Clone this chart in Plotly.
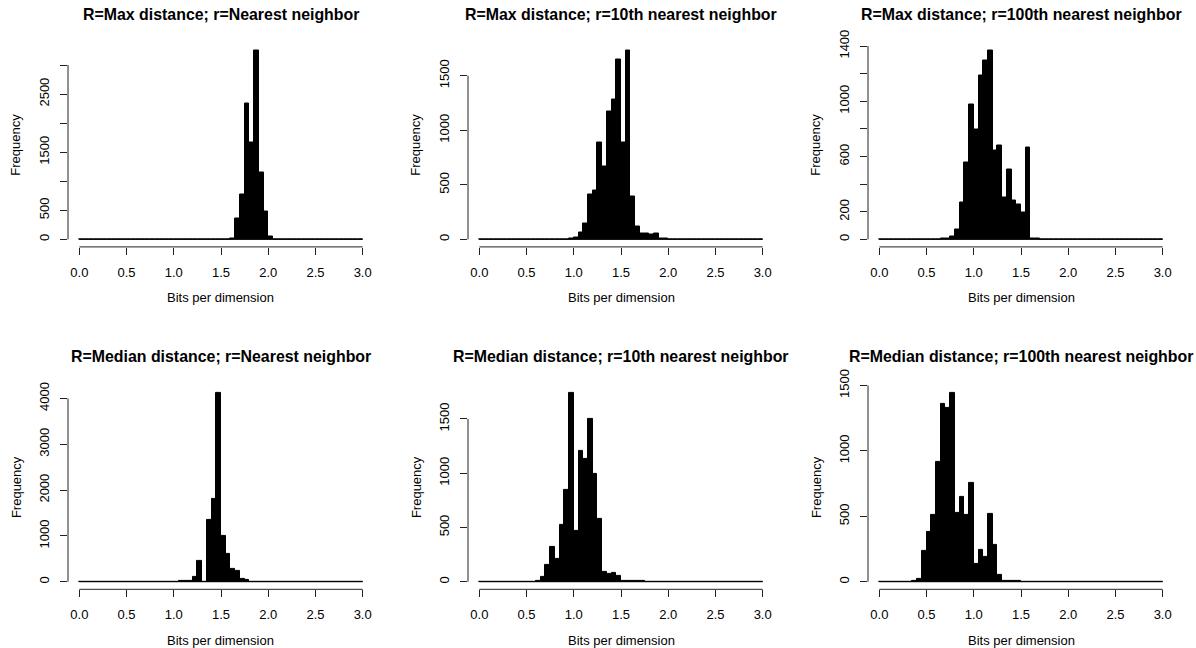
import plotly.graph_objects as go

# ---------------- data ----------------
BIN_WIDTH = 0.05
BIN_LEFT = [round(i * BIN_WIDTH, 2) for i in range(60)]  # bins 0.00 .. 2.95

COUNTS_MAX_NN = [
    0, 0, 0, 0, 0, 0, 0, 0, 0, 0,
    0, 0, 0, 0, 0, 0, 0, 0, 0, 0,
    0, 0, 0, 0, 0, 0, 0, 0, 0, 0,
    0, 3, 20, 367, 763, 2340, 1663, 3257, 1147, 476,
    52, 0, 0, 0, 0, 0, 0, 0, 0, 0,
    0, 0, 0, 0, 0, 0, 0, 0, 0, 0,
]
COUNTS_MAX_10 = [
    0, 0, 0, 0, 0, 0, 0, 0, 0, 0,
    0, 0, 0, 0, 0, 0, 0, 0, 0, 5,
    18, 64, 147, 412, 449, 889, 672, 1173, 1286, 1649,
    889, 1735, 397, 122, 58, 58, 43, 55, 12, 12,
    2, 0, 0, 0, 0, 0, 0, 0, 0, 0,
    0, 0, 0, 0, 0, 0, 0, 0, 0, 0,
]
COUNTS_MAX_100 = [
    0, 0, 0, 0, 0, 0, 0, 0, 0, 0,
    0, 0, 0, 3, 7, 24, 72, 268, 555, 980,
    796, 1185, 1296, 1371, 640, 678, 304, 507, 282, 249,
    191, 664, 3, 3, 2, 2, 2, 2, 0, 0,
    0, 0, 0, 0, 0, 0, 0, 0, 0, 0,
    0, 0, 0, 0, 0, 0, 0, 0, 0, 0,
]
COUNTS_MED_NN = [
    0, 0, 0, 0, 0, 0, 0, 0, 0, 0,
    0, 0, 0, 0, 0, 0, 0, 0, 0, 0,
    0, 10, 8, 20, 100, 460, 0, 1350, 1817, 4130,
    993, 600, 277, 226, 66, 30, 5, 0, 0, 0,
    0, 0, 0, 0, 0, 0, 0, 0, 0, 0,
    0, 0, 0, 0, 0, 0, 0, 0, 0, 0,
]
COUNTS_MED_10 = [
    0, 0, 0, 0, 0, 0, 0, 0, 0, 0,
    0, 0, 6, 43, 154, 323, 209, 526, 842, 1743,
    467, 1205, 1131, 1500, 993, 581, 86, 71, 80, 55,
    10, 8, 6, 5, 4, 0, 0, 0, 0, 0,
    0, 0, 0, 0, 0, 0, 0, 0, 0, 0,
    0, 0, 0, 0, 0, 0, 0, 0, 0, 0,
]
COUNTS_MED_100 = [
    0, 0, 0, 0, 0, 0, 0, 5, 20, 232,
    383, 508, 916, 1355, 1327, 1446, 528, 651, 508, 753,
    133, 247, 189, 515, 281, 51, 5, 3, 3, 3,
    0, 0, 0, 0, 0, 0, 0, 0, 0, 0,
    0, 0, 0, 0, 0, 0, 0, 0, 0, 0,
    0, 0, 0, 0, 0, 0, 0, 0, 0, 0,
]

TITLES = [
    "R=Max distance; r=Nearest neighbor",
    "R=Max distance; r=10th nearest neighbor",
    "R=Max distance; r=100th nearest neighbor",
    "R=Median distance; r=Nearest neighbor",
    "R=Median distance; r=10th nearest neighbor",
    "R=Median distance; r=100th nearest neighbor",
]
X_TICKS = [0.0, 0.5, 1.0, 1.5, 2.0, 2.5, 3.0]
X_TICK_LABELS = ["0.0", "0.5", "1.0", "1.5", "2.0", "2.5", "3.0"]

Y_TICKS_1 = [0, 500, 1000, 1500, 2000, 2500, 3000]
Y_LABELS_1 = ["0", "500", "", "1500", "", "2500", ""]
Y_TICKS_2 = [0, 500, 1000, 1500]
Y_LABELS_2 = ["0", "500", "1000", "1500"]
Y_TICKS_3 = [0, 200, 400, 600, 800, 1000, 1200, 1400]
Y_LABELS_3 = ["0", "200", "", "600", "", "1000", "", "1400"]
Y_TICKS_4 = [0, 1000, 2000, 3000, 4000]
Y_LABELS_4 = ["0", "1000", "2000", "3000", "4000"]
Y_TICKS_5 = [0, 500, 1000, 1500]
Y_LABELS_5 = ["0", "500", "1000", "1500"]
Y_TICKS_6 = [0, 500, 1000, 1500]
Y_LABELS_6 = ["0", "500", "1000", "1500"]

X_TITLE = "Bits per dimension"
Y_TITLE = "Frequency"

PANELS = [
    (TITLES[0], COUNTS_MAX_NN, Y_TICKS_1, Y_LABELS_1),
    (TITLES[1], COUNTS_MAX_10, Y_TICKS_2, Y_LABELS_2),
    (TITLES[2], COUNTS_MAX_100, Y_TICKS_3, Y_LABELS_3),
    (TITLES[3], COUNTS_MED_NN, Y_TICKS_4, Y_LABELS_4),
    (TITLES[4], COUNTS_MED_10, Y_TICKS_5, Y_LABELS_5),
    (TITLES[5], COUNTS_MED_100, Y_TICKS_6, Y_LABELS_6),
]

# ---------------- layout geometry (pixels) ----------------
W, H = 1196, 648
COL_LEFT = [68, 468, 868]
PLOT_W = 306
ROW_TOP = [42.5, 384.9]
PLOT_H = 204.4
FONT = "Liberation Sans, Arial, Helvetica, sans-serif"
AXIS_COLOR = "#222222"
TICK_FONT_SIZE = 13
TITLE_FONT_SIZE = 15.9


def px_x(p):
    return p / W


def px_y(p):
    return 1 - p / H


fig = go.Figure()
layout = {}
shapes = []
annotations = []

for i, (title, counts, yticks, ylabels) in enumerate(PANELS):
    r, c = divmod(i, 3)
    n = i + 1
    xa = "x" if n == 1 else f"x{n}"
    ya = "y" if n == 1 else f"y{n}"
    xkey = "xaxis" if n == 1 else f"xaxis{n}"
    ykey = "yaxis" if n == 1 else f"yaxis{n}"

    centers = [b + BIN_WIDTH / 2 for b in BIN_LEFT]
    fig.add_trace(go.Bar(
        x=centers, y=counts, width=BIN_WIDTH,
        marker=dict(color="black", line=dict(color="black", width=1)),
        xaxis=xa, yaxis=ya, showlegend=False, hoverinfo="skip",
    ))
    # borders of empty bins (R draws them as a baseline)
    fig.add_trace(go.Scatter(
        x=[BIN_LEFT[0], BIN_LEFT[-1] + BIN_WIDTH], y=[0, 0], mode="lines",
        line=dict(color="black", width=1),
        xaxis=xa, yaxis=ya, showlegend=False, hoverinfo="skip",
    ))

    ymax = max(counts)
    x0 = COL_LEFT[c]
    y0 = ROW_TOP[r]
    xr = [X_TICKS[0] - 0.04 * (X_TICKS[-1] - X_TICKS[0]),
          X_TICKS[-1] + 0.04 * (X_TICKS[-1] - X_TICKS[0])]
    layout[xkey] = dict(
        domain=[px_x(x0), px_x(x0 + PLOT_W)], range=xr, anchor=ya,
        tickmode="array", tickvals=X_TICKS, ticktext=X_TICK_LABELS,
        ticks="outside", ticklen=7, tickwidth=1, tickcolor=AXIS_COLOR,
        showline=False, showgrid=False, zeroline=False, automargin=False,
        tickfont=dict(family=FONT, size=TICK_FONT_SIZE, color="black"),
        ticklabelstandoff=6, fixedrange=True,
    )
    layout[ykey] = dict(
        domain=[px_y(y0 + PLOT_H), px_y(y0)],
        range=[-0.04 * ymax, 1.04 * ymax], anchor=xa,
        tickmode="array", tickvals=yticks, ticktext=ylabels,
        ticks="outside", ticklen=7, tickwidth=1, tickcolor=AXIS_COLOR,
        showline=False, showgrid=False, zeroline=False, tickangle=-90,
        automargin=False,
        tickfont=dict(family=FONT, size=TICK_FONT_SIZE, color="black"),
        ticklabelstandoff=6, fixedrange=True,
    )
    # R-style axis lines spanning first..last tick
    shapes.append(dict(type="line", xref=xa, yref=f"{ya} domain",
                       x0=X_TICKS[0], x1=X_TICKS[-1], y0=0, y1=0,
                       line=dict(color=AXIS_COLOR, width=1)))
    shapes.append(dict(type="line", xref=f"{xa} domain", yref=ya,
                       x0=0, x1=0, y0=yticks[0], y1=yticks[-1],
                       line=dict(color=AXIS_COLOR, width=1)))

    cx = x0 + PLOT_W / 2
    annotations.append(dict(
        text=f"<b>{title}</b>", x=px_x(cx), y=px_y(y0 - 28), xref="paper", yref="paper",
        xanchor="center", yanchor="middle", showarrow=False,
        font=dict(family=FONT, size=TITLE_FONT_SIZE, color="black"),
    ))
    annotations.append(dict(
        text=X_TITLE, x=px_x(cx), y=px_y(y0 + PLOT_H + 51), xref="paper", yref="paper",
        xanchor="center", yanchor="middle", showarrow=False,
        font=dict(family=FONT, size=TICK_FONT_SIZE, color="black"),
    ))
    annotations.append(dict(
        text=Y_TITLE, x=px_x(x0 - 52), y=px_y(y0 + PLOT_H / 2), xref="paper", yref="paper",
        xanchor="center", yanchor="middle", showarrow=False, textangle=-90,
        font=dict(family=FONT, size=TICK_FONT_SIZE, color="black"),
    ))

fig.update_layout(
    template="none", autosize=False,
    width=W, height=H, margin=dict(l=0, r=0, t=0, b=0, pad=0, autoexpand=False),
    paper_bgcolor="white", plot_bgcolor="white",
    bargap=0, barmode="overlay",
    shapes=shapes, annotations=annotations,
    **layout,
)

fig.write_html("out.html", config={"displayModeBar": False})
